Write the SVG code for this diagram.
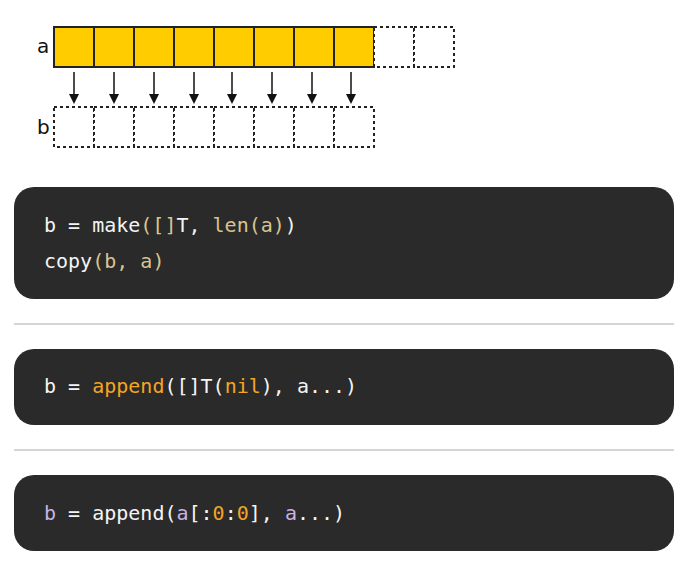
<svg xmlns="http://www.w3.org/2000/svg" width="681" height="561" viewBox="0 0 681 561">
<style>
.lbl{font-family:"DejaVu Sans","Liberation Sans",sans-serif;font-size:20px;fill:#111}
.full{fill:#ffcc00;stroke:#222;stroke-width:2}
.empty{fill:#fff;stroke:#222;stroke-width:2;stroke-dasharray:3 3}
.arr{stroke:#111;stroke-width:1.5;marker-end:url(#ah)}
.box{fill:#2a2a2a}
.sep{stroke:#d4d4d4;stroke-width:2}
.code{font-family:"DejaVu Sans Mono","Liberation Mono",monospace;font-size:20px;fill:#f4f4f4;white-space:pre}
.tan{fill:#d9c48f}
.or{fill:#f5a524}
.lav{fill:#c6b3e4}
</style>
<defs>
<marker id="ah" markerWidth="10" markerHeight="10" refX="8" refY="5" orient="auto" markerUnits="userSpaceOnUse">
<path d="M0,0 L10,5 L0,10 Z" fill="#111"/>
</marker>
</defs>
<g id="array-a">
<text class="lbl" x="37" y="53">a</text>
<rect class="full" x="54" y="27" width="40" height="40"/>
<rect class="full" x="94" y="27" width="40" height="40"/>
<rect class="full" x="134" y="27" width="40" height="40"/>
<rect class="full" x="174" y="27" width="40" height="40"/>
<rect class="full" x="214" y="27" width="40" height="40"/>
<rect class="full" x="254" y="27" width="40" height="40"/>
<rect class="full" x="294" y="27" width="40" height="40"/>
<rect class="full" x="334" y="27" width="40" height="40"/>
<rect class="empty" x="374" y="27" width="40" height="40"/>
<rect class="empty" x="414" y="27" width="40" height="40"/>
</g>
<g id="array-b">
<text class="lbl" x="37" y="134">b</text>
<rect class="empty" x="54" y="107" width="40" height="40"/>
<rect class="empty" x="94" y="107" width="40" height="40"/>
<rect class="empty" x="134" y="107" width="40" height="40"/>
<rect class="empty" x="174" y="107" width="40" height="40"/>
<rect class="empty" x="214" y="107" width="40" height="40"/>
<rect class="empty" x="254" y="107" width="40" height="40"/>
<rect class="empty" x="294" y="107" width="40" height="40"/>
<rect class="empty" x="334" y="107" width="40" height="40"/>
</g>
<g id="connectors">
<line class="arr" x1="74" y1="72" x2="74" y2="102"/>
<line class="arr" x1="114" y1="72" x2="114" y2="102"/>
<line class="arr" x1="154" y1="72" x2="154" y2="102"/>
<line class="arr" x1="194" y1="72" x2="194" y2="102"/>
<line class="arr" x1="232" y1="72" x2="232" y2="102"/>
<line class="arr" x1="272" y1="72" x2="272" y2="102"/>
<line class="arr" x1="312" y1="72" x2="312" y2="102"/>
<line class="arr" x1="351" y1="72" x2="351" y2="102"/>
</g>
<g id="code1">
<rect class="box" x="14" y="187" width="660" height="112" rx="20"/>
<text class="code" x="44" y="232">b = make<tspan class="tan">([]</tspan>T, <tspan class="tan">len(a)</tspan>)</text>
<text class="code" x="44" y="268">copy<tspan class="tan">(b, a)</tspan></text>
</g>
<line id="sep1" class="sep" x1="14" y1="324" x2="674" y2="324"/>
<g id="code2">
<rect class="box" x="14" y="349" width="660" height="76" rx="20"/>
<text class="code" x="44" y="393">b = <tspan class="or">append</tspan>([]T(<tspan class="or">nil</tspan>), a...)</text>
</g>
<line id="sep2" class="sep" x1="14" y1="450" x2="674" y2="450"/>
<g id="code3">
<rect class="box" x="14" y="475" width="660" height="76" rx="20"/>
<text class="code" x="44" y="520"><tspan class="lav">b</tspan> = append(<tspan class="lav">a</tspan>[:<tspan class="or">0</tspan>:<tspan class="or">0</tspan>], <tspan class="lav">a</tspan>...)</text>
</g>
</svg>
